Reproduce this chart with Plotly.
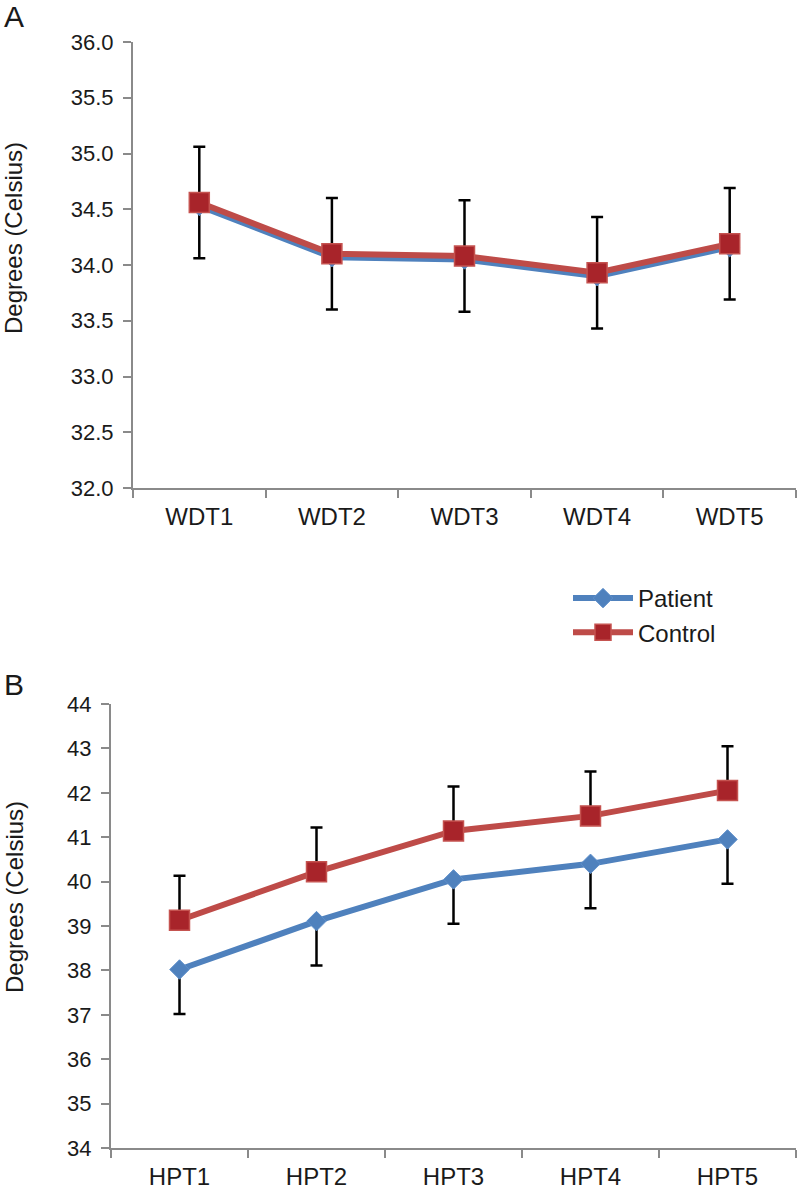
import plotly.graph_objects as go

W, H = 797, 1191

# ---- data ----
cats_a = ["WDT1", "WDT2", "WDT3", "WDT4", "WDT5"]
patient_a = [34.53, 34.07, 34.05, 33.90, 34.16]
control_a = [34.56, 34.10, 34.08, 33.93, 34.19]
patient_a_err_minus = [0.47, 0.47, 0.47, 0.47, 0.47]
control_a_err_plus = [0.50, 0.50, 0.50, 0.50, 0.50]

cats_b = ["HPT1", "HPT2", "HPT3", "HPT4", "HPT5"]
patient_b = [38.02, 39.11, 40.05, 40.40, 40.95]
control_b = [39.13, 40.22, 41.14, 41.48, 42.05]
patient_b_err_minus = [1.0, 1.0, 1.0, 1.0, 1.0]
control_b_err_plus = [1.0, 1.0, 1.0, 1.0, 1.0]

yticks_a = [32.0, 32.5, 33.0, 33.5, 34.0, 34.5, 35.0, 35.5, 36.0]
yticks_b = [34, 35, 36, 37, 38, 39, 40, 41, 42, 43, 44]

# ---- styles ----
FONT = "Liberation Sans, Arial, sans-serif"
BLUE = "#4F81BD"
BLUE_EDGE = "#5E8FCB"
RED_LINE = "#BE4B48"
RED_FILL = "#A8242A"
RED_EDGE = "#C55350"
AX = "#8A8A8A"
TXT = "#1a1a1a"


def px(x):
    return x / W


def py(y):
    return 1 - y / H


fig = go.Figure()


def add_pair(cats, pat, ctl, pminus, cplus, xa, ya, show):
    zeros = [0] * len(cats)
    fig.add_trace(go.Scatter(
        x=cats, y=pat, name="Patient", mode="lines+markers",
        xaxis=xa, yaxis=ya, showlegend=show, legendrank=1,
        line=dict(color=BLUE, width=6),
        marker=dict(symbol="diamond", size=15, color=BLUE,
                    line=dict(color=BLUE_EDGE, width=1)),
        error_y=dict(type="data", symmetric=False, array=zeros,
                     arrayminus=pminus, color="black", thickness=2.5, width=6),
    ))
    fig.add_trace(go.Scatter(
        x=cats, y=ctl, name="Control", mode="lines+markers",
        xaxis=xa, yaxis=ya, showlegend=show, legendrank=2,
        line=dict(color=RED_LINE, width=6),
        marker=dict(symbol="square", size=20, color=RED_FILL,
                    line=dict(color=RED_EDGE, width=1.5)),
        error_y=dict(type="data", symmetric=False, array=cplus,
                     arrayminus=zeros, color="black", thickness=2.5, width=6),
    ))


add_pair(cats_a, patient_a, control_a, patient_a_err_minus, control_a_err_plus, "x", "y", True)
add_pair(cats_b, patient_b, control_b, patient_b_err_minus, control_b_err_plus, "x2", "y2", False)

xcommon = dict(type="category", tickson="boundaries", ticks="outside", ticklen=8,
               tickwidth=2, tickcolor=AX, showline=True, linecolor=AX, linewidth=2,
               showgrid=False, zeroline=False, range=[-0.5, 4.5], automargin=False,
               ticklabelstandoff=6,
               tickfont=dict(family=FONT, size=24, color=TXT))
ycommon = dict(ticks="outside", ticklen=8, tickwidth=2, tickcolor=AX, showline=True,
               linecolor=AX, linewidth=2, showgrid=False, zeroline=False,
               automargin=False, ticklabelstandoff=5,
               tickfont=dict(family=FONT, size=22, color=TXT))

fig.update_layout(
    width=W, height=H,
    margin=dict(l=0, r=0, t=0, b=0, pad=0, autoexpand=False),
    paper_bgcolor="white", plot_bgcolor="white",
    xaxis=dict(domain=[px(133), px(796)], anchor="y", categoryarray=cats_a, **xcommon),
    yaxis=dict(domain=[py(488), py(42)], anchor="x", range=[32, 36],
               tickvals=yticks_a, tickformat=".1f", **ycommon),
    xaxis2=dict(domain=[px(111), px(796)], anchor="y2", categoryarray=cats_b, **xcommon),
    yaxis2=dict(domain=[py(1148), py(704)], anchor="x2", range=[34, 44],
                tickvals=yticks_b, **ycommon),
    legend=dict(x=px(568), y=py(576), xanchor="left", yanchor="top",
                font=dict(family=FONT, size=24, color=TXT),
                itemwidth=60, bgcolor="rgba(0,0,0,0)", tracegroupgap=0),
    showlegend=True,
)

ann = [
    dict(text="A", x=px(2), y=py(17), xanchor="left", yanchor="middle", font_size=30),
    dict(text="B", x=px(2), y=py(684), xanchor="left", yanchor="middle", font_size=30),
    dict(text="Degrees (Celsius)", x=px(14), y=py(238), xanchor="center", yanchor="middle",
         textangle=-90, font_size=24),
    dict(text="Degrees (Celsius)", x=px(14), y=py(897), xanchor="center", yanchor="middle",
         textangle=-90, font_size=24),
]
for a in ann:
    fig.add_annotation(xref="paper", yref="paper", showarrow=False,
                       font=dict(family=FONT, size=a.pop("font_size"), color=TXT), **a)

fig.write_html("out.html",
               config={"displayModeBar": False, "staticPlot": True},
               post_script="document.body.style.margin='0';document.body.style.overflow='hidden';")
